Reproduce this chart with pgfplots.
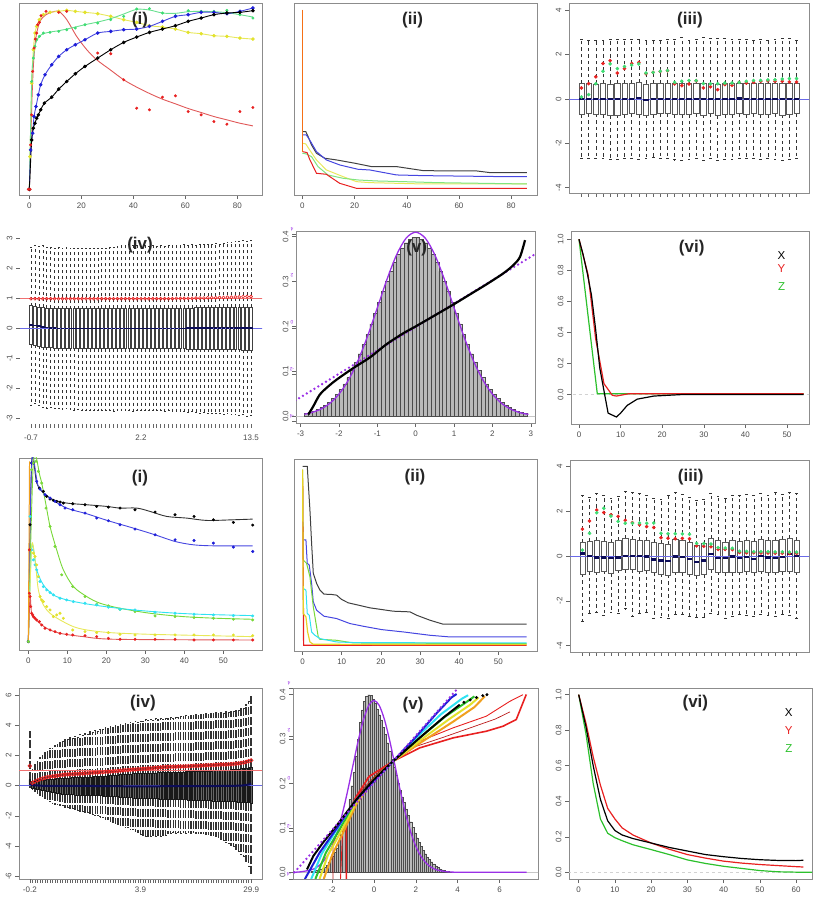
\documentclass[border=0pt]{standalone}
\usepackage{pgfplots}
\pgfplotsset{compat=1.18}
\usepackage{pgfplotstable}
\usepackage{fontspec}
\setmainfont{Liberation Sans}

\definecolor{rred}{HTML}{E82020}
\definecolor{rredl}{HTML}{E05858}
\definecolor{ryel}{HTML}{E2E22C}
\definecolor{ryell}{HTML}{E8E85A}
\definecolor{rgrn}{HTML}{3EDC72}
\definecolor{rgrnl}{HTML}{6AE090}
\definecolor{rlime}{HTML}{78D838}
\definecolor{rgrnB}{HTML}{80E480}
\definecolor{rblu}{HTML}{1E1ED8}
\definecolor{rblul}{HTML}{4646E0}
\definecolor{rcyan}{HTML}{30E2F2}
\definecolor{rnavy}{HTML}{0C0C58}
\definecolor{rpurp}{HTML}{9A30E6}
\definecolor{racfg}{HTML}{2CC02C}
\definecolor{rorange}{HTML}{F0A020}
\definecolor{rframe}{HTML}{8C8C8C}
\definecolor{rabl}{HTML}{6A6AE8}
\definecolor{rabr}{HTML}{F07070}

\pgfplotsset{
  rpan/.style={
    scale only axis, anchor=south west,
    axis line style={draw=rframe, line width=0.8pt},
    tick style={draw=black!60, line width=0.5pt},
    tick align=outside, major tick length=4pt,
    xtick pos=left, ytick pos=left,
    ticklabel style={font=\fontsize{8}{9}\selectfont, text=black!70},
    /pgf/number format/assume math mode=true,
    yticklabel style={rotate=90, anchor=south},
  },
  upwhisk/.style n args={2}{draw=none, mark=none, error bars/.cd, y dir=plus, y explicit, error mark=none,
    error bar style={draw=black!80, line width=#1, dash pattern=#2}},
  lowwhisk/.style n args={2}{draw=none, mark=none, error bars/.cd, y dir=minus, y explicit, error mark=none,
    error bar style={draw=black!80, line width=#1, dash pattern=#2}},
  capbar/.style n args={2}{draw=none, mark=none, error bars/.cd, x dir=both, x fixed=#1, error mark=none,
    error bar style={draw=black!80, line width=#2, solid}},
  medbar/.style n args={2}{draw=none, mark=none, error bars/.cd, x dir=both, x fixed=#1, error mark=none,
    error bar style={draw=rnavy, line width=#2, solid}},
}
\tikzset{ptitle/.style={font=\bfseries\fontsize{17}{19}\selectfont, text=black!85, inner sep=0pt}}

% ---------- boxplot tables ----------
\pgfplotstableread{
i lw lq med uq uw r g
1 -2.68 -0.68 0.00 0.70 2.68 0.50 0.09
2 -2.66 -0.66 0.00 0.69 2.66 0.69 0.20
3 -2.68 -0.67 -0.01 0.68 2.66 1.00 0.69
4 -2.66 -0.68 0.00 0.69 2.66 1.60 1.25
5 -2.74 -0.74 -0.01 0.68 2.68 1.73 1.58
6 -2.72 -0.72 0.00 0.70 2.68 1.17 1.37
7 -2.70 -0.68 0.00 0.69 2.68 1.37 1.47
8 -2.70 -0.66 0.01 0.71 2.70 1.60 1.53
9 -2.72 -0.70 0.04 0.74 2.70 1.65 1.58
10 -2.66 -0.72 -0.06 0.68 2.64 1.14 1.17
11 -2.64 -0.68 0.00 0.70 2.66 1.20 1.20
12 -2.68 -0.66 0.00 0.70 2.66 1.24 1.25
13 -2.70 -0.66 0.00 0.70 2.68 1.27 1.28
14 -2.74 -0.68 0.00 0.69 2.70 0.68 0.75
15 -2.76 -0.70 0.01 0.70 2.78 0.60 0.80
16 -2.72 -0.68 0.00 0.70 2.66 0.68 0.83
17 -2.70 -0.66 0.00 0.70 2.68 0.82 0.83
18 -2.78 -0.72 0.00 0.70 2.78 0.50 0.69
19 -2.70 -0.66 0.01 0.70 2.72 0.55 0.69
20 -2.78 -0.74 -0.01 0.68 2.72 0.42 0.69
21 -2.72 -0.68 0.00 0.70 2.74 0.65 0.72
22 -2.72 -0.70 0.00 0.70 2.68 0.62 0.72
23 -2.68 -0.66 0.02 0.72 2.70 0.75 0.75
24 -2.70 -0.68 0.00 0.70 2.70 0.72 0.80
25 -2.70 -0.66 0.00 0.70 2.66 0.75 0.83
26 -2.72 -0.68 0.00 0.70 2.68 0.80 0.84
27 -2.70 -0.68 0.00 0.70 2.66 0.82 0.86
28 -2.72 -0.66 0.01 0.70 2.70 0.80 0.87
29 -2.78 -0.72 0.00 0.72 2.74 0.80 0.90
30 -2.72 -0.68 0.00 0.70 2.72 0.77 0.92
31 -2.70 -0.66 0.00 0.70 2.66 0.77 0.92
}\tabC

\pgfplotstableread{
i lw lq med uq uw r
1 -2.56 -0.55 0.10 0.75 2.70 0.98
2 -2.50 -0.57 0.09 0.73 2.76 0.98
3 -2.58 -0.60 0.07 0.71 2.72 0.98
4 -2.62 -0.62 0.04 0.69 2.74 0.98
5 -2.66 -0.64 0.02 0.67 2.70 0.98
6 -2.64 -0.65 0.00 0.66 2.68 0.98
7 -2.68 -0.66 0.00 0.65 2.66 0.98
8 -2.66 -0.66 -0.01 0.65 2.68 0.98
9 -2.70 -0.67 -0.01 0.65 2.66 0.98
10 -2.68 -0.67 -0.01 0.65 2.68 0.98
11 -2.70 -0.67 -0.01 0.65 2.66 0.98
12 -2.72 -0.67 -0.01 0.65 2.66 0.98
13 -2.70 -0.68 -0.01 0.65 2.64 0.98
14 -2.72 -0.68 -0.01 0.65 2.66 0.98
15 -2.74 -0.68 -0.01 0.65 2.64 0.98
16 -2.72 -0.68 -0.01 0.65 2.66 0.98
17 -2.74 -0.68 -0.01 0.65 2.64 0.98
18 -2.72 -0.68 -0.01 0.65 2.66 0.98
19 -2.74 -0.68 -0.01 0.66 2.64 0.98
20 -2.72 -0.68 -0.01 0.66 2.66 0.98
21 -2.74 -0.68 -0.01 0.66 2.68 0.98
22 -2.76 -0.68 -0.01 0.66 2.70 0.98
23 -2.74 -0.68 -0.01 0.66 2.72 0.98
24 -2.72 -0.68 -0.01 0.66 2.74 0.98
25 -2.74 -0.68 -0.01 0.66 2.76 0.98
26 -2.72 -0.68 -0.01 0.66 2.78 0.98
27 -2.76 -0.68 -0.01 0.66 2.76 0.98
28 -2.74 -0.68 -0.01 0.66 2.74 0.98
29 -2.72 -0.68 -0.01 0.66 2.72 0.98
30 -2.74 -0.68 -0.01 0.66 2.74 0.98
31 -2.72 -0.68 -0.01 0.66 2.72 0.98
32 -2.74 -0.68 -0.01 0.66 2.74 0.98
33 -2.72 -0.68 -0.01 0.66 2.72 0.98
34 -2.74 -0.68 -0.01 0.66 2.74 0.98
35 -2.76 -0.68 -0.01 0.67 2.72 0.98
36 -2.74 -0.68 -0.01 0.67 2.74 0.98
37 -2.76 -0.68 -0.01 0.67 2.76 0.98
38 -2.78 -0.68 -0.01 0.67 2.74 0.99
39 -2.76 -0.68 -0.01 0.67 2.76 0.99
40 -2.78 -0.68 -0.01 0.67 2.78 0.99
41 -2.80 -0.69 0.00 0.67 2.76 0.99
42 -2.78 -0.69 0.00 0.67 2.78 0.99
43 -2.80 -0.69 0.00 0.68 2.76 1.00
44 -2.82 -0.69 0.00 0.68 2.78 1.00
45 -2.80 -0.69 0.00 0.68 2.80 1.00
46 -2.82 -0.70 0.00 0.68 2.78 1.01
47 -2.84 -0.70 0.00 0.68 2.80 1.01
48 -2.82 -0.70 0.00 0.68 2.82 1.01
49 -2.84 -0.70 0.00 0.69 2.80 1.02
50 -2.86 -0.70 0.00 0.69 2.82 1.02
51 -2.84 -0.71 0.00 0.69 2.84 1.03
52 -2.88 -0.71 0.00 0.69 2.86 1.03
53 -2.86 -0.71 0.00 0.69 2.88 1.04
54 -2.90 -0.71 0.00 0.70 2.90 1.04
55 -2.88 -0.72 0.00 0.70 2.92 1.05
56 -2.92 -0.72 0.00 0.70 2.90 1.05
57 -2.90 -0.72 0.00 0.70 2.92 1.05
}\tabD

\pgfplotstableread{
i lw lq med uq uw r g
1 -2.90 -0.80 0.12 0.62 2.70 1.21 0.27
2 -2.55 -0.68 0.00 0.66 2.62 1.57 1.02
3 -2.50 -0.70 -0.06 0.72 2.80 2.06 1.94
4 -2.65 -0.66 -0.06 0.68 2.72 1.95 2.14
5 -2.52 -0.78 -0.10 0.62 2.58 1.85 1.79
6 -2.55 -0.62 -0.06 0.70 2.66 1.78 1.55
7 -2.35 -0.60 0.00 0.80 2.90 1.60 1.47
8 -2.70 -0.58 0.00 0.76 2.86 1.50 1.47
9 -2.55 -0.66 0.00 0.72 2.82 1.40 1.48
10 -2.50 -0.64 -0.02 0.70 2.70 1.32 1.47
11 -2.80 -0.72 -0.15 0.62 2.58 1.28 1.48
12 -2.75 -0.80 -0.20 0.56 2.55 0.82 1.02
13 -2.78 -0.84 -0.22 0.54 2.70 0.80 1.00
14 -2.60 -0.70 -0.02 0.76 2.84 0.78 1.00
15 -2.62 -0.74 -0.05 0.70 2.78 0.79 0.99
16 -2.70 -0.80 -0.12 0.62 2.62 0.78 0.98
17 -2.75 -0.86 -0.25 0.50 2.50 0.46 0.57
18 -2.72 -0.82 -0.20 0.56 2.56 0.44 0.56
19 -2.55 -0.60 0.08 0.80 2.80 0.42 0.54
20 -2.60 -0.70 -0.10 0.70 2.66 0.30 0.38
21 -2.78 -0.72 -0.10 0.64 2.60 0.30 0.36
22 -2.70 -0.72 -0.02 0.70 2.74 0.29 0.35
23 -2.62 -0.70 -0.10 0.66 2.70 0.16 0.22
24 -2.66 -0.68 -0.05 0.72 2.78 0.15 0.21
25 -2.70 -0.72 -0.12 0.66 2.74 0.15 0.20
26 -2.60 -0.66 0.00 0.74 2.82 0.14 0.20
27 -2.66 -0.74 -0.06 0.70 2.70 0.14 0.20
28 -2.70 -0.70 -0.08 0.72 2.86 0.13 0.19
29 -2.62 -0.68 -0.04 0.74 2.76 0.13 0.19
30 -2.64 -0.66 0.10 0.80 2.84 0.12 0.18
31 -2.80 -0.70 0.00 0.72 2.82 0.12 0.18
}\tabI

\pgfplotstableread{
i lw lq med uq uw r
1 -0.10 0.00 0.10 0.40 3.60 1.30
2 -0.26 -0.15 0.03 0.29 1.06 0.18
3 -0.37 -0.19 0.02 0.31 1.40 0.27
4 -0.48 -0.22 0.01 0.33 1.58 0.35
5 -0.62 -0.26 0.00 0.35 1.90 0.41
6 -0.70 -0.30 -0.01 0.36 2.02 0.47
7 -0.84 -0.33 -0.01 0.38 2.22 0.52
8 -0.93 -0.37 -0.01 0.40 2.28 0.57
9 -1.06 -0.40 -0.01 0.41 2.46 0.59
10 -1.15 -0.43 -0.01 0.43 2.48 0.62
11 -1.21 -0.46 -0.01 0.44 2.66 0.64
12 -1.24 -0.50 -0.01 0.46 2.70 0.66
13 -1.30 -0.53 -0.02 0.47 2.88 0.69
14 -1.33 -0.56 -0.02 0.49 2.90 0.71
15 -1.40 -0.59 -0.02 0.50 3.08 0.73
16 -1.42 -0.59 -0.02 0.51 3.05 0.74
17 -1.48 -0.60 -0.02 0.52 3.18 0.75
18 -1.51 -0.60 -0.02 0.53 3.14 0.76
19 -1.58 -0.61 -0.02 0.53 3.28 0.77
20 -1.61 -0.61 -0.02 0.54 3.22 0.78
21 -1.67 -0.62 -0.02 0.55 3.38 0.79
22 -1.70 -0.62 -0.02 0.56 3.33 0.80
23 -1.77 -0.63 -0.02 0.57 3.47 0.81
24 -1.79 -0.63 -0.02 0.58 3.42 0.83
25 -1.86 -0.64 -0.02 0.58 3.56 0.84
26 -1.89 -0.64 -0.02 0.59 3.52 0.85
27 -1.96 -0.65 -0.03 0.60 3.66 0.86
28 -1.98 -0.65 -0.03 0.61 3.61 0.87
29 -2.05 -0.66 -0.03 0.62 3.75 0.88
30 -2.10 -0.67 -0.03 0.63 3.70 0.89
31 -2.20 -0.68 -0.03 0.65 3.82 0.91
32 -2.25 -0.69 -0.04 0.66 3.78 0.92
33 -2.34 -0.70 -0.04 0.67 3.90 0.93
34 -2.40 -0.71 -0.04 0.69 3.85 0.95
35 -2.49 -0.72 -0.04 0.70 3.97 0.96
36 -2.53 -0.73 -0.04 0.71 3.92 0.98
37 -2.61 -0.75 -0.04 0.72 4.04 0.99
38 -2.65 -0.76 -0.04 0.74 3.98 1.01
39 -2.74 -0.77 -0.05 0.75 4.10 1.02
40 -2.78 -0.78 -0.05 0.76 4.05 1.03
41 -2.86 -0.80 -0.05 0.78 4.16 1.05
42 -2.90 -0.81 -0.05 0.79 4.12 1.06
43 -3.01 -0.81 -0.05 0.80 4.22 1.07
44 -3.08 -0.82 -0.05 0.80 4.18 1.09
45 -3.19 -0.83 -0.05 0.81 4.28 1.10
46 -3.26 -0.83 -0.05 0.82 4.24 1.11
47 -3.37 -0.84 -0.05 0.82 4.35 1.12
48 -3.34 -0.84 -0.05 0.83 4.31 1.14
49 -3.35 -0.85 -0.05 0.84 4.40 1.15
50 -3.30 -0.85 -0.05 0.84 4.34 1.16
51 -3.34 -0.86 -0.05 0.85 4.42 1.18
52 -3.29 -0.86 -0.05 0.86 4.36 1.19
53 -3.32 -0.87 -0.04 0.86 4.44 1.20
54 -3.25 -0.87 -0.04 0.87 4.38 1.22
55 -3.25 -0.88 -0.04 0.88 4.46 1.23
56 -3.18 -0.89 -0.04 0.88 4.42 1.24
57 -3.18 -0.89 -0.04 0.89 4.50 1.24
58 -3.11 -0.90 -0.04 0.89 4.46 1.25
59 -3.15 -0.90 -0.04 0.90 4.54 1.25
60 -3.10 -0.91 -0.04 0.90 4.50 1.26
61 -3.16 -0.92 -0.03 0.91 4.58 1.27
62 -3.11 -0.92 -0.03 0.91 4.55 1.27
63 -3.15 -0.93 -0.03 0.92 4.63 1.28
64 -3.10 -0.94 -0.03 0.92 4.58 1.29
65 -3.16 -0.94 -0.03 0.93 4.67 1.29
66 -3.11 -0.95 -0.03 0.93 4.62 1.30
67 -3.15 -0.96 -0.03 0.94 4.70 1.31
68 -3.12 -0.96 -0.03 0.94 4.65 1.31
69 -3.16 -0.97 -0.03 0.95 4.73 1.32
70 -3.17 -0.98 -0.03 0.96 4.69 1.33
71 -3.22 -0.98 -0.03 0.97 4.76 1.34
72 -3.24 -0.99 -0.03 0.98 4.72 1.35
73 -3.30 -0.99 -0.03 0.98 4.80 1.35
74 -3.31 -1.00 -0.03 0.99 4.75 1.36
75 -3.37 -1.00 -0.03 1.00 4.83 1.37
76 -3.44 -1.01 -0.02 1.01 4.78 1.38
77 -3.55 -1.01 -0.02 1.02 4.86 1.39
78 -3.63 -1.02 -0.02 1.02 4.81 1.39
79 -3.74 -1.02 -0.02 1.03 4.90 1.40
80 -3.81 -1.03 -0.02 1.04 4.84 1.41
81 -3.93 -1.03 -0.01 1.05 4.93 1.42
82 -4.00 -1.04 -0.01 1.06 4.88 1.43
83 -4.19 -1.06 -0.01 1.08 5.00 1.45
84 -4.34 -1.07 0.00 1.11 5.00 1.47
85 -4.52 -1.09 0.00 1.13 5.10 1.50
86 -4.67 -1.10 0.02 1.16 5.13 1.52
87 -5.00 -1.12 0.04 1.18 5.35 1.57
88 -5.30 -1.13 0.07 1.21 5.55 1.62
89 -5.77 -1.15 0.12 1.23 5.92 1.67
}\tabJ

% ---------- histograms ----------
\pgfplotstableread{
x h
-2.85 0.0069
-2.75 0.0091
-2.65 0.0119
-2.55 0.0155
-2.45 0.0198
-2.35 0.0252
-2.25 0.0317
-2.15 0.0396
-2.05 0.0488
-1.95 0.0596
-1.85 0.0721
-1.75 0.0863
-1.65 0.1023
-1.55 0.1200
-1.45 0.1394
-1.35 0.1604
-1.25 0.1826
-1.15 0.2059
-1.05 0.2299
-0.95 0.2541
-0.85 0.2780
-0.75 0.3011
-0.65 0.3230
-0.55 0.3429
-0.45 0.3605
-0.35 0.3752
-0.25 0.3867
-0.15 0.3945
-0.05 0.3984
0.05 0.3984
0.15 0.3945
0.25 0.3867
0.35 0.3752
0.45 0.3605
0.55 0.3429
0.65 0.3230
0.75 0.3011
0.85 0.2780
0.95 0.2541
1.05 0.2299
1.15 0.2059
1.25 0.1826
1.35 0.1604
1.45 0.1394
1.55 0.1200
1.65 0.1023
1.75 0.0863
1.85 0.0721
1.95 0.0596
2.05 0.0488
2.15 0.0396
2.25 0.0317
2.35 0.0252
2.45 0.0198
2.55 0.0155
2.65 0.0119
2.75 0.0091
2.85 0.0069
}\histE

\pgfplotstableread{
x h
-2.95 0.002
-2.85 0.003
-2.75 0.004
-2.65 0.005
-2.55 0.007
-2.45 0.009
-2.35 0.012
-2.25 0.016
-2.15 0.022
-2.05 0.030
-1.95 0.037
-1.85 0.045
-1.75 0.055
-1.65 0.070
-1.55 0.086
-1.45 0.100
-1.35 0.120
-1.25 0.140
-1.15 0.165
-1.05 0.195
-0.95 0.225
-0.85 0.262
-0.75 0.300
-0.65 0.338
-0.55 0.366
-0.45 0.385
-0.35 0.396
-0.25 0.400
-0.15 0.398
-0.05 0.390
0.05 0.380
0.15 0.368
0.25 0.355
0.35 0.343
0.45 0.327
0.55 0.311
0.65 0.292
0.75 0.272
0.85 0.254
0.95 0.236
1.05 0.218
1.15 0.200
1.25 0.185
1.35 0.170
1.45 0.157
1.55 0.143
1.65 0.128
1.75 0.114
1.85 0.102
1.95 0.089
2.05 0.078
2.15 0.068
2.25 0.058
2.35 0.050
2.45 0.042
2.55 0.035
2.65 0.029
2.75 0.024
2.85 0.019
2.95 0.015
3.05 0.011
3.15 0.008
3.25 0.006
3.35 0.004
3.45 0.003
3.55 0.002
3.65 0.001
}\histK

\begin{document}
\begin{tikzpicture}
\path[use as bounding box] (0,0) rectangle (816pt,900pt);

% ================= (i) top =================
\begin{axis}[rpan, at={(19pt,705pt)}, width=243pt, height=192pt,
  xmin=-3.98, xmax=89.5, ymin=0, ymax=575, xtick={0,20,40,60,80}, ytick=\empty]
\addplot[rredl, line width=0.9pt, smooth, tension=0.5] coordinates {(0,17) (0.5,145) (1,285) (1.54,385) (2.2,450) (2.82,485) (3.85,515) (4.75,528) (6.4,540) (8,546) (11.3,550) (14.4,525) (18.2,475) (22.1,435) (25.9,405) (31.1,375) (36.3,345) (41.3,323) (46.5,303) (51.2,287) (56.2,273) (61.1,259) (66.1,247) (71,235) (76,225) (81,215) (86,207)};
\addplot[ryell, line width=0.9pt, smooth, tension=0.5, mark=*, mark size=1.3pt, mark options={fill=ryel, draw=ryel}] coordinates {(0,17) (0.26,115) (0.9,335) (1.54,435) (2.18,485) (2.82,505) (3.85,525) (5.39,540) (7.96,547) (11.3,550) (14.38,553) (17.7,550) (21.4,547) (26.3,543) (31.3,535) (36.3,525) (41.3,517) (46.2,507) (51.2,503) (56.2,497) (61.1,487) (66.1,483) (71,477) (76,475) (81,470) (86,467)};
\addplot[rgrnl, line width=0.9pt, smooth, tension=0.5] coordinates {(0,17) (0.9,340) (1.54,410) (2.18,445) (2.82,462) (3.85,475) (5.39,483) (7.96,488) (11.3,492) (14.38,497) (17.7,503) (21.4,510) (26.3,518) (31.3,528) (36.3,542) (41.3,556) (46.2,554) (51.2,545) (56.2,544) (61.1,549) (66.1,550) (71,549) (76,546) (81,540) (86,533)};
\addplot[only marks, mark=*, mark size=1.3pt, rgrn] coordinates {(0,17) (0.9,340) (1.54,410) (2.18,445) (2.82,465) (3.85,475) (5.39,485) (7.96,487) (11.3,490) (14.38,495) (17.7,500) (21.4,510) (26.3,515) (31.3,525) (36.3,535) (41.3,557) (46.2,558) (51.2,545) (56.2,537) (61.1,552) (66.1,550) (71,550) (76,553) (81,540) (86,530)};
\addplot[rblul, line width=0.9pt, smooth, tension=0.5, mark=*, mark size=1.3pt, mark options={fill=rblu, draw=rblu}] coordinates {(0,17) (0.51,135) (1.28,185) (1.8,235) (2.57,265) (3.47,300) (4.36,330) (6.03,360) (8.6,390) (11.3,415) (14.38,435) (17.7,450) (21.4,465) (26.3,485) (31.3,490) (36.3,495) (41.3,497) (46.2,505) (51.2,520) (56.2,535) (61.1,540) (66.1,547) (71,547) (76,543) (81,550) (86,560)};
\addplot[black, line width=0.9pt, smooth, tension=0.5, mark=*, mark size=1.3pt] coordinates {(0,17) (0.9,165) (1.54,200) (2.18,215) (2.82,230) (3.47,240) (4.36,255) (5.78,275) (8.6,293) (11.3,317) (14.38,340) (17.7,363) (21.4,385) (26.3,410) (31.3,435) (36.3,457) (41.3,473) (46.2,487) (51.2,497) (56.2,507) (61.1,520) (66.1,530) (71,540) (76,545) (81,547) (86,552)};
\addplot[only marks, mark=*, mark size=1.3pt, rred] coordinates {(-0.4,17) (0.26,17) (0.51,150) (0.9,240) (1.28,370) (1.8,440) (2.3,467) (2.82,485) (3.2,510) (3.85,517) (4.49,537) (6.42,550) (11.3,547) (14.38,550) (26.3,425) (31.3,423) (36.3,345) (41.3,260) (46.2,255) (51.2,293) (56.2,297) (61.1,250) (66.1,240) (71,220) (76,212) (81,250) (86,262)};
\node[ptitle] at (rel axis cs:0.498,0.91) {(i)};
\end{axis}

% ================= (ii) top =================
\begin{axis}[rpan, at={(294pt,705pt)}, width=243pt, height=192pt,
  xmin=-3.2, xmax=89.9, ymin=0, ymax=575, xtick={0,20,40,60,80}, ytick=\empty]
\addplot[black!75, line width=1pt] coordinates {(0,190) (1.3,190) (2.2,175) (3.5,150) (5.4,125) (8.6,110) (13.1,105) (20.2,95) (26.5,85) (36.1,85) (46.3,73) (56.6,72) (66.8,72) (71.9,67) (86,67)};
\addplot[rblul, line width=1pt] coordinates {(0,180) (1.5,180) (2.8,165) (5.4,130) (9.2,105) (14.3,90) (21.3,77) (25.8,75) (36.1,60) (46.3,58) (56.6,57) (77.1,55) (86,55)};
\addplot[ryell, line width=1pt] coordinates {(0,155) (1.3,153) (2.8,135) (5.4,105) (9.2,75) (15.6,55) (20.7,40) (25.8,37) (36.1,35) (46.3,33) (86,33)};
\addplot[rgrnB, line width=1pt] coordinates {(0,125) (1.5,123) (3.5,115) (6.0,85) (9.8,60) (15.6,50) (21.3,45) (28.4,42) (38.7,40) (51.5,37) (86,33)};
\addplot[rred, line width=1pt] coordinates {(0,130) (1.8,127) (2.8,107) (5.4,65) (9.2,62) (14.3,35) (20.7,20) (86,20)};
\addplot[rorange!70!red, line width=1pt] coordinates {(0,555) (0,130)};
\node[ptitle] at (rel axis cs:0.488,0.91) {(ii)};
\end{axis}

% ================= (iii) top =================
\begin{axis}[rpan, at={(569pt,707pt)}, width=240pt, height=190pt,
  xmin=-0.74, xmax=32.74, ymin=-4.24, ymax=4.33, xtick={1,...,31}, xticklabels={},
  ytick={-4,-2,0,2,4}, yticklabels={-4,-2,0,2,4}]
\addplot[upwhisk={0.5pt}{on 3.5pt off 3pt}] table[x=i, y=uq, y error plus expr=\thisrow{uw}-\thisrow{uq}] {\tabC};
\addplot[lowwhisk={0.5pt}{on 3.5pt off 3pt}] table[x=i, y=lq, y error minus expr=\thisrow{lq}-\thisrow{lw}] {\tabC};
\addplot[capbar={0.2}{0.7pt}] table[x=i, y=uw] {\tabC};
\addplot[capbar={0.2}{0.7pt}] table[x=i, y=lw] {\tabC};
\addplot[ybar, bar shift=0pt, bar width=0.74, fill=white, draw=black!65, line width=0.5pt] table[x=i, y=uq] {\tabC};
\addplot[ybar, bar shift=0pt, bar width=0.74, fill=white, draw=black!65, line width=0.5pt] table[x=i, y=lq] {\tabC};
\addplot[rabl, line width=0.7pt] coordinates {(-2,0) (35,0)};
\addplot[medbar={0.37}{2.2pt}] table[x=i, y=med] {\tabC};
\addplot[only marks, mark=*, mark size=1.6pt, rred] table[x=i, y=r] {\tabC};
\addplot[only marks, mark=*, mark size=1.6pt, rgrn] table[x=i, y=g] {\tabC};
\node[ptitle] at (rel axis cs:0.504,0.91) {(iii)};
\end{axis}

% ================= (iv) top =================
\begin{axis}[rpan, at={(20pt,476pt)}, width=242pt, height=192pt,
  xmin=-1.8, xmax=59.8, ymin=-3.19, ymax=3.2, xtick={1,...,57}, xticklabels={},
  extra x ticks={1,29,57}, extra x tick labels={-0.7,2.2,13.5},
  ytick={-3,-2,-1,0,1,2,3}, yticklabels={-3,-2,-1,0,1,2,3},
  axis line style={draw=none}, xticklabel style={yshift=-3pt}]
\addplot[upwhisk={0.5pt}{on 3pt off 3pt}] table[x=i, y=uq, y error plus expr=\thisrow{uw}-\thisrow{uq}] {\tabD};
\addplot[lowwhisk={0.5pt}{on 3pt off 3pt}] table[x=i, y=lq, y error minus expr=\thisrow{lq}-\thisrow{lw}] {\tabD};
\addplot[capbar={0.2}{0.7pt}] table[x=i, y=uw] {\tabD};
\addplot[capbar={0.2}{0.7pt}] table[x=i, y=lw] {\tabD};
\addplot[ybar, bar shift=0pt, bar width=0.72, fill=white, draw=black!75, line width=0.5pt] table[x=i, y=uq] {\tabD};
\addplot[ybar, bar shift=0pt, bar width=0.72, fill=white, draw=black!75, line width=0.5pt] table[x=i, y=lq] {\tabD};
\addplot[rabl, line width=0.8pt] coordinates {(-3,0) (62,0)};
\addplot[rabr, line width=0.8pt] coordinates {(-3,1) (62,1)};
\addplot[medbar={0.45}{1.8pt}] table[x=i, y=med] {\tabD};
\addplot[only marks, mark=o, mark size=1.5pt, rred, line width=0.6pt] table[x=i, y=r] {\tabD};
\node[ptitle] at (rel axis cs:0.496,0.93) {(iv)};
\end{axis}

% ================= (v) top =================
\begin{axis}[rpan, at={(296pt,477pt)}, width=239pt, height=192pt,
  xmin=-3.12, xmax=3.11, ymin=-0.0148, ymax=0.4127,
  xtick={-3,-2,-1,0,1,2,3}, xticklabels={-3,-2,-1,0,1,2,3},
  ytick={0,0.1,0.2,0.3,0.4}, yticklabels={0.0,0.1,0.2,0.3,0.4}]
\addplot[gray!45, line width=0.8pt] coordinates {(-4,0) (4,0)};
\addplot[ybar, bar shift=0pt, bar width=0.1, fill=gray!55, draw=black!70, line width=0.25pt] table[x=x, y=h] {\histE};
\addplot[rpurp, line width=1.3pt, smooth] coordinates {(-2.9,0.0048) (-2.75,0.0075) (-2.5,0.0151) (-2.25,0.0283) (-2,0.0496) (-1.75,0.0813) (-1.5,0.1249) (-1.25,0.1796) (-1,0.2418) (-0.75,0.3046) (-0.5,0.3593) (-0.25,0.3967) (0,0.41) (0.25,0.3967) (0.5,0.3593) (0.75,0.3046) (1,0.2418) (1.25,0.1796) (1.5,0.1249) (1.75,0.0813) (2,0.0496) (2.25,0.0283) (2.5,0.0151) (2.75,0.0075) (2.94,0.0045)};
\node[ptitle] at (rel axis cs:0.505,0.91) {(v)};
\end{axis}
\begin{axis}[rpan, at={(296pt,477pt)}, width=239pt, height=192pt,
  xmin=-3.12, xmax=3.11, ymin=-4.06, ymax=4.13,
  axis x line=none, axis y line*=right, axis line style={draw=none},
  ytick={-4,-2,0,2,4}, yticklabels={-4,-2,0,2,4},
  yticklabel style={font=\fontsize{5}{6}\selectfont, text=rpurp, rotate=90, anchor=north}]
\addplot[rpurp, line width=2.6pt, line cap=round, dash pattern=on 0pt off 4.5pt] coordinates {(-3.14,-3.1) (3.07,3.1)};
\addplot[black, line width=2.2pt, smooth] coordinates {(-2.8,-3.70) (-2.67,-3.35) (-2.5,-2.85) (-2.28,-2.5) (-2.06,-2.21) (-1.63,-1.72) (-1.19,-1.26) (-0.76,-0.70) (-0.32,-0.23) (0,0.06) (0.55,0.58) (1.0,1.01) (1.42,1.43) (1.85,1.86) (2.29,2.33) (2.55,2.68) (2.72,3.03) (2.85,3.74)};
\end{axis}

% ================= (vi) top =================
\begin{axis}[rpan, at={(571pt,476pt)}, width=238pt, height=193pt,
  xmin=-1.92, xmax=55.3, ymin=-0.19, ymax=1.053, xtick={0,10,20,30,40,50},
  ytick={0,0.2,0.4,0.6,0.8,1}, yticklabels={0.0,0.2,0.4,0.6,0.8,1.0}]
\addplot[gray!35, line width=0.8pt, dashed] coordinates {(-3,0) (60,0)};
\addplot[racfg, line width=1.2pt] coordinates {(0,1) (4.4,0.005) (54,0.005)};
\addplot[rred, line width=1.2pt] coordinates {(0,1) (2.2,0.77) (4,0.36) (6,0.07) (8,-0.005) (9,-0.01) (12,0.005) (54,0.005)};
\addplot[black, line width=1.2pt] coordinates {(0,1) (1,0.9) (2,0.78) (3,0.64) (4,0.42) (5,0.17) (7,-0.12) (9,-0.145) (10,-0.12) (11.6,-0.07) (14,-0.03) (18,-0.01) (25,0) (54,0)};
\node[ptitle] at (rel axis cs:0.507,0.91) {(vi)};
\node[font=\fontsize{11.5}{12}\selectfont, text=black] at (axis cs:48.7,0.894) {X};
\node[font=\fontsize{11.5}{12}\selectfont, text=rred] at (axis cs:48.7,0.813) {Y};
\node[font=\fontsize{11.5}{12}\selectfont, text=racfg] at (axis cs:48.7,0.694) {Z};
\end{axis}

% ================= (i) bottom =================
\begin{axis}[rpan, at={(19pt,250pt)}, width=243pt, height=192pt,
  xmin=-2.4, xmax=59.9, ymin=0, ymax=575, xtick={0,10,20,30,40,50}, ytick=\empty]
\addplot[black!80, line width=0.9pt, smooth, tension=0.5] coordinates {(0,25) (0.85,560) (2.14,500) (3.85,470) (6.41,450) (9.83,440) (14.96,435) (20.09,430) (23.5,425) (27.78,425) (31.2,415) (35.47,400) (40.6,395) (45.73,388) (52.56,390) (57.52,392)};
\addplot[rblul, line width=0.9pt, smooth, tension=0.5] coordinates {(0,25) (0.85,560) (2.56,490) (5.56,455) (9.83,425) (14.96,408) (20.51,387) (26.92,365) (32.48,345) (37.61,325) (42.31,315) (47.44,312) (57.52,312)};
\addplot[rlime, line width=0.9pt, smooth, tension=0.5] coordinates {(0,25) (1.28,560) (2.99,520) (4.27,450) (5.56,370) (7.26,300) (8.97,240) (11.54,190) (14.96,160) (18.38,140) (23.5,125) (31.2,110) (39.74,100) (48.29,95) (57.52,92)};
\addplot[rcyan, line width=0.9pt, smooth, tension=0.5] coordinates {(0,25) (0.85,310) (2.14,240) (3.85,195) (6.41,165) (9.83,150) (14.96,138) (20.94,128) (26.92,120) (35.47,112) (44.02,107) (57.52,103)};
\addplot[ryell, line width=0.9pt, smooth, tension=0.5] coordinates {(0,25) (0.85,310) (1.71,270) (2.56,180) (3.85,135) (5.56,110) (8.12,90) (11.54,70) (14.96,60) (20.94,52) (31.2,47) (57.52,40)};
\addplot[rredl, line width=0.9pt, smooth, tension=0.5] coordinates {(0,25) (0.43,160) (0.85,110) (2.14,88) (4.7,65) (8.12,50) (14.1,40) (22.65,32) (57.52,30)};
\addplot[only marks, mark=*, mark size=1.3pt, black] coordinates {(0,25) (0.43,375) (0.85,560) (1.28,560) (2.82,485) (3.85,475) (4.7,460) (5.56,452) (6.41,448) (7.26,445) (8.12,443) (8.97,440) (11.37,438) (14.53,435) (17.52,430) (20.51,428) (23.5,425) (27.35,420) (32.48,413) (37.61,405) (42.48,400) (47.44,390) (52.56,382) (57.52,374)};
\addplot[only marks, mark=*, mark size=1.3pt, rblu] coordinates {(0,25) (0.85,560) (1.28,560) (2.14,505) (2.99,482) (4.27,465) (5.56,455) (6.84,445) (8.12,435) (9.4,425) (11.37,420) (14.53,410) (17.52,395) (20.51,387) (23.5,375) (27.35,362) (32.48,345) (37.61,330) (42.48,328) (47.44,320) (52.56,308) (57.52,295)};
\addplot[only marks, mark=*, mark size=1.3pt, rlime] coordinates {(0,25) (0.85,540) (1.28,560) (1.97,565) (2.56,535) (3.42,500) (4.53,425) (5.56,370) (6.84,310) (8.55,225) (11.37,190) (14.53,160) (17.52,137) (20.51,132) (23.5,122) (27.35,115) (32.48,102) (37.61,100) (42.48,97) (47.44,95) (52.56,92) (57.52,90)};
\addplot[only marks, mark=*, mark size=1.3pt, rcyan] coordinates {(0.43,400) (0.85,300) (1.28,270) (1.71,255) (2.14,240) (2.56,220) (2.99,205) (3.85,190) (4.7,180) (5.56,172) (6.41,165) (8.12,155) (9.83,150) (11.54,145) (14.53,140) (17.52,135) (20.51,128) (23.5,122) (27.35,120) (32.48,113) (37.61,110) (42.48,107) (47.44,105) (52.56,103) (57.52,102)};
\addplot[only marks, mark=*, mark size=1.3pt, ryel] coordinates {(0.43,300) (1.28,290) (1.71,280) (2.14,255) (2.56,220) (2.99,160) (3.42,150) (3.85,145) (4.7,130) (5.56,120) (6.41,100) (7.26,105) (8.12,110) (8.97,95) (11.37,60) (14.53,55) (17.52,52) (20.51,52) (23.5,47) (27.35,45) (32.48,45) (37.61,45) (42.48,45) (47.44,45) (52.56,45) (57.52,43)};
\addplot[only marks, mark=*, mark size=1.3pt, rred] coordinates {(0.26,300) (0.26,170) (0.43,160) (0.6,130) (0.85,110) (1.11,105) (1.28,100) (1.71,95) (2.14,90) (2.82,85) (3.42,75) (4.27,65) (5.56,60) (6.84,55) (8.12,50) (9.83,47) (11.37,45) (14.53,43) (17.52,40) (20.51,35) (23.5,32) (27.35,32) (32.48,32) (37.61,32) (42.48,30) (47.44,30) (52.56,30) (57.52,30)};
\addplot[rorange, line width=1pt] coordinates {(0,25) (0.3,565)};
\node[ptitle] at (rel axis cs:0.498,0.894) {(i)};
\end{axis}

% ================= (ii) bottom =================
\begin{axis}[rpan, at={(294pt,249pt)}, width=243pt, height=192pt,
  xmin=-2.2, xmax=59.9, ymin=0, ymax=574, xtick={0,10,20,30,40,50}, ytick=\empty]
\addplot[black!75, line width=1pt] coordinates {(0,552) (1.19,552) (1.45,502) (1.87,422) (2.3,322) (2.73,232) (3.58,202) (4.43,182) (5.45,170) (7.41,169) (8.69,167) (9.97,154) (11.67,144) (14.65,136) (17.21,129) (20.19,124) (23.17,119) (27.43,117) (29.13,107) (32.54,92) (35.95,80) (37.65,80) (57.24,80)};
\addplot[rblul, line width=1pt] coordinates {(0.17,332) (0.85,332) (1.19,262) (1.7,257) (2.3,202) (2.73,147) (3.58,122) (5.45,104) (8.69,97) (12.1,82) (15.5,74) (20.19,64) (25.72,57) (29.13,52) (32.54,47) (37.65,42) (57.24,42)};
\addplot[rlime, line width=1pt] coordinates {(0,542) (0.17,272) (1.02,262) (1.87,222) (2.73,132) (4.0,42) (4.43,35) (8.69,32) (12.95,24) (57.24,22)};
\addplot[rcyan, line width=1pt] coordinates {(0.17,187) (0.85,182) (1.19,112) (1.7,107) (2.3,57) (3.15,47) (4.43,37) (8.69,27) (13.8,25) (57.24,24)};
\addplot[rred, line width=1.2pt] coordinates {(0,512) (0.26,17) (57.24,17)};
\addplot[ryel!85!orange, line width=1.2pt] coordinates {(0,542) (0.17,112) (0.85,102) (1.28,57) (1.87,27) (2.73,20) (57.24,19)};
\node[ptitle] at (rel axis cs:0.498,0.908) {(ii)};
\end{axis}

% ================= (iii) bottom =================
\begin{axis}[rpan, at={(570pt,248pt)}, width=239pt, height=192pt,
  xmin=-0.74, xmax=32.74, ymin=-4.29, ymax=4.3, xtick={1,...,31}, xticklabels={},
  ytick={-4,-2,0,2,4}, yticklabels={-4,-2,0,2,4}]
\addplot[upwhisk={0.5pt}{on 3.5pt off 3pt}] table[x=i, y=uq, y error plus expr=\thisrow{uw}-\thisrow{uq}] {\tabI};
\addplot[lowwhisk={0.5pt}{on 3.5pt off 3pt}] table[x=i, y=lq, y error minus expr=\thisrow{lq}-\thisrow{lw}] {\tabI};
\addplot[capbar={0.2}{0.7pt}] table[x=i, y=uw] {\tabI};
\addplot[capbar={0.2}{0.7pt}] table[x=i, y=lw] {\tabI};
\addplot[ybar, bar shift=0pt, bar width=0.74, fill=white, draw=black!65, line width=0.5pt] table[x=i, y=uq] {\tabI};
\addplot[ybar, bar shift=0pt, bar width=0.74, fill=white, draw=black!65, line width=0.5pt] table[x=i, y=lq] {\tabI};
\addplot[rabl, line width=0.7pt] coordinates {(-2,0) (35,0)};
\addplot[medbar={0.37}{2.2pt}] table[x=i, y=med] {\tabI};
\addplot[only marks, mark=*, mark size=1.6pt, rred] table[x=i, y=r] {\tabI};
\addplot[only marks, mark=*, mark size=1.6pt, rgrn] table[x=i, y=g] {\tabI};
\node[ptitle] at (rel axis cs:0.505,0.913) {(iii)};
\end{axis}

% ================= (iv) bottom =================
\begin{axis}[rpan, at={(19pt,21pt)}, width=243pt, height=191pt,
  xmin=-3.3, xmax=93.3, ymin=-6.17, ymax=6.45, xtick={1,...,89}, xticklabels={},
  extra x ticks={1,45,89}, extra x tick labels={-0.2,3.9,29.9},
  ytick={-6,-4,-2,0,2,4,6}, yticklabels={-6,-4,-2,0,2,4,6}]
\addplot[upwhisk={1.4pt}{on 8pt off 2.5pt}] table[x=i, y=uq, y error plus expr=\thisrow{uw}-\thisrow{uq}] {\tabJ};
\addplot[lowwhisk={1.4pt}{on 8pt off 2.5pt}] table[x=i, y=lq, y error minus expr=\thisrow{lq}-\thisrow{lw}] {\tabJ};
\addplot[capbar={0.3}{0.6pt}] table[x=i, y=uw] {\tabJ};
\addplot[capbar={0.3}{0.6pt}] table[x=i, y=lw] {\tabJ};
\addplot[ybar, bar shift=0pt, bar width=0.72, fill=black!60, draw=black!90, line width=0.45pt] table[x=i, y=uq] {\tabJ};
\addplot[ybar, bar shift=0pt, bar width=0.72, fill=black!60, draw=black!90, line width=0.45pt] table[x=i, y=lq] {\tabJ};
\addplot[rabl, line width=0.8pt] coordinates {(-5,0) (95,0)};
\addplot[rabr, line width=0.8pt] coordinates {(-5,1) (95,1)};
\addplot[rnavy, line width=2pt] table[x=i, y=med] {\tabJ};
\addplot[only marks, mark=o, mark size=1.8pt, rred, line width=0.8pt] table[x=i, y=r] {\tabJ};
\node[ptitle] at (rel axis cs:0.51,0.92) {(iv)};
\end{axis}

% ================= (v) bottom =================
\begin{axis}[rpan, at={(293pt,21pt)}, width=245pt, height=191pt,
  xmin=-3.87, xmax=7.84, ymin=-0.015, ymax=0.415,
  xtick={-2,0,2,4,6}, xticklabels={-2,0,2,4,6},
  ytick={0,0.1,0.2,0.3,0.4}, yticklabels={0.0,0.1,0.2,0.3,0.4}]
\addplot[gray!45, line width=0.8pt] coordinates {(-4,0) (8,0)};
\addplot[ybar, bar shift=0pt, bar width=0.1, fill=gray!55, draw=black!70, line width=0.25pt] table[x=x, y=h] {\histK};
\addplot[rpurp, line width=1.3pt, smooth] coordinates {(-3.9,0) (-3.5,0.0012) (-3,0.0056) (-2.75,0.011) (-2.5,0.0204) (-2.25,0.0356) (-2,0.0587) (-1.75,0.0914) (-1.5,0.134) (-1.25,0.1853) (-1,0.2416) (-0.75,0.2969) (-0.5,0.344) (-0.25,0.3758) (0,0.387) (0.25,0.3758) (0.5,0.344) (0.75,0.2969) (1,0.2416) (1.25,0.1853) (1.5,0.134) (1.75,0.0914) (2,0.0587) (2.25,0.0356) (2.5,0.0204) (2.75,0.011) (3,0.0056) (3.5,0.0012) (4,0.0002) (4.5,0) (7.3,0)};
\node[ptitle] at (rel axis cs:0.49,0.91) {(v)};
\end{axis}
\begin{axis}[rpan, at={(293pt,21pt)}, width=245pt, height=191pt,
  xmin=-3.87, xmax=7.84, ymin=-4, ymax=4,
  axis x line=none, axis y line*=right, axis line style={draw=none},
  ytick={-4,-2,0,2,4}, yticklabels={-4,-2,0,2,4},
  yticklabel style={font=\fontsize{5}{6}\selectfont, text=rpurp, rotate=90, anchor=north}]
\addplot[rred!80!black, line width=0.7pt] coordinates {(-1.96,-4.0) (-1.96,-2.45) (-1.6,-1.9) (-1.1,-1.0) (-0.5,-0.2) (0.2,0.45) (0.91,0.93) (2.0,1.55) (3.2,1.9) (4.5,2.3) (5.8,2.7) (6.5,3.0)};
\addplot[rred, line width=0.9pt] coordinates {(-1.6,-4.0) (-1.5,-2.0) (-1.0,-0.9) (-0.3,0.25) (0.91,0.93) (2.18,1.77) (3.78,2.33) (5.37,2.82) (6.49,3.44) (7.12,3.72)};
\addplot[rred, line width=1.6pt] coordinates {(-1.32,-4.0) (-1.32,-1.37) (-0.84,-0.53) (-0.21,0.31) (0.91,0.93) (1.71,1.28) (2.18,1.49) (2.98,1.70) (3.78,1.91) (4.57,2.05) (5.37,2.19) (6.17,2.40) (6.8,2.68) (7.28,3.73)};
\addplot[rorange, line width=2pt] coordinates {(-2.4,-4.0) (-2.0,-3.0) (-1.5,-2.1) (-0.8,-0.8) (0,0.18) (0.91,0.93) (2.3,1.75) (3.8,2.6) (4.8,3.2) (5.3,3.65)};
\addplot[ryel, line width=2pt] coordinates {(-2.6,-4.0) (-2.2,-3.0) (-1.6,-2.05) (-0.85,-0.78) (0,0.17) (0.91,0.93) (2.2,1.8) (3.6,2.7) (4.6,3.3) (5.0,3.6)};
\addplot[racfg, line width=2pt] coordinates {(-2.8,-4.0) (-2.3,-2.9) (-1.7,-2.0) (-0.9,-0.75) (0,0.15) (0.91,0.93) (2.1,1.85) (3.4,2.8) (4.4,3.4) (4.8,3.65)};
\addplot[rcyan, line width=2pt] coordinates {(-3.0,-4.0) (-2.5,-2.95) (-1.8,-1.95) (-0.9,-0.72) (0,0.12) (0.91,0.93) (2.0,1.9) (3.2,2.9) (4.2,3.55) (4.5,3.7)};
\addplot[rblu, line width=2pt] coordinates {(-3.3,-4.0) (-2.6,-2.9) (-1.8,-1.9) (-0.9,-0.75) (0,0.1) (0.91,0.93) (2.0,1.95) (3.0,2.95) (3.7,3.6) (3.95,3.75)};
\addplot[black, line width=2pt] coordinates {(-3.2,-3.6) (-2.9,-3.04) (-2.44,-2.48) (-1.8,-1.78) (-0.84,-0.67) (0,0.17) (0.91,0.93) (2.18,1.91) (3.3,2.75) (4.1,3.3)};
\addplot[only marks, mark=*, mark size=1.3pt, black] coordinates {(4.3,3.4) (4.6,3.5) (4.9,3.6) (5.2,3.68) (5.4,3.72)};
\addplot[rpurp, line width=2.6pt, line cap=round, dash pattern=on 0pt off 4.5pt] coordinates {(-3.8,-3.72) (4.02,4.0)};
\end{axis}

% ================= (vi) bottom =================
\begin{axis}[rpan, at={(569pt,21pt)}, width=243pt, height=191pt,
  xmin=-2.68, xmax=64.4, ymin=-0.0375, ymax=1.0375, xtick={0,10,20,30,40,50,60},
  ytick={0,0.2,0.4,0.6,0.8,1}, yticklabels={0.0,0.2,0.4,0.6,0.8,1.0}]
\addplot[gray!35, line width=0.8pt, dashed] coordinates {(-3,0) (66,0)};
\addplot[racfg, line width=1.2pt] coordinates {(0,1) (2,0.78) (4,0.5) (6,0.3) (8,0.22) (10,0.195) (12,0.178) (15,0.155) (20,0.128) (25,0.1) (30,0.07) (35,0.05) (40,0.034) (45,0.022) (50,0.01) (55,0.003) (60,0.001) (65,0)};
\addplot[rred, line width=1.2pt] coordinates {(0,1) (2,0.84) (4,0.65) (6,0.49) (8,0.36) (10,0.3) (12,0.25) (15,0.21) (20,0.165) (25,0.13) (30,0.1) (35,0.08) (40,0.063) (45,0.052) (50,0.044) (55,0.038) (60,0.032) (62,0.03)};
\addplot[black, line width=1.2pt] coordinates {(0,1) (2,0.82) (4,0.6) (6,0.41) (8,0.29) (10,0.235) (12,0.21) (15,0.19) (20,0.165) (25,0.14) (30,0.12) (35,0.1) (40,0.088) (45,0.078) (50,0.071) (55,0.067) (60,0.066) (62,0.068)};
\node[ptitle] at (rel axis cs:0.52,0.92) {(vi)};
\node[font=\fontsize{11.5}{12}\selectfont, text=black] at (axis cs:58,0.9) {X};
\node[font=\fontsize{11.5}{12}\selectfont, text=rred] at (axis cs:58,0.8) {Y};
\node[font=\fontsize{11.5}{12}\selectfont, text=racfg] at (axis cs:58,0.695) {Z};
\end{axis}
\end{tikzpicture}
\end{document}
